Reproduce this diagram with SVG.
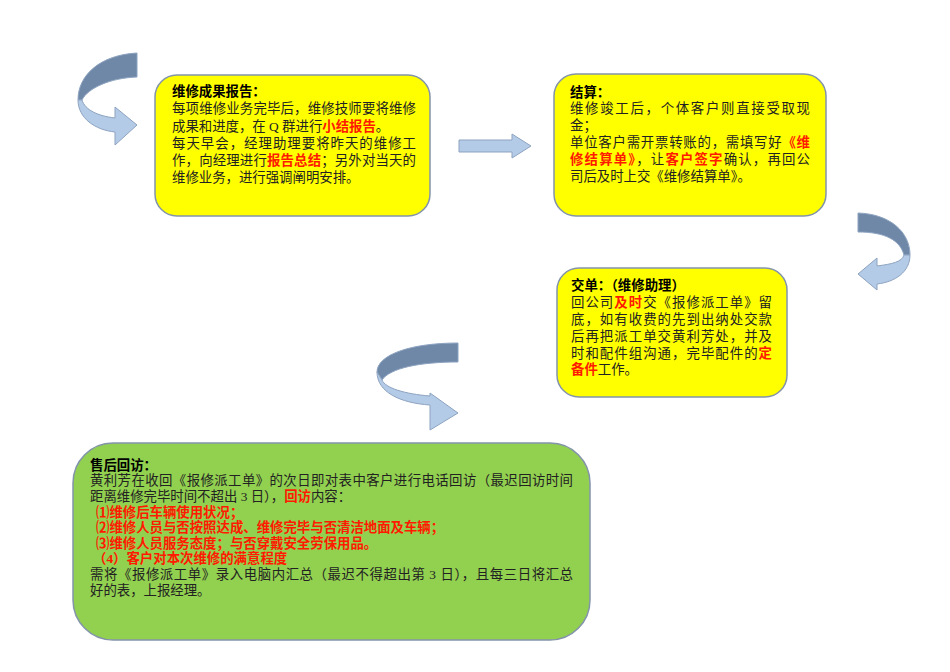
<svg xmlns="http://www.w3.org/2000/svg" width="950" height="672" viewBox="0 0 950 672">
<style>
.box{fill:#ffff00;stroke:#8394aa;stroke-width:1.5}
.g{fill:#92d050;stroke:#8394aa;stroke-width:1.5}
text{font-family:"Liberation Serif","Noto Sans CJK SC",serif;font-size:13.4px;fill:#222}
.b{font-weight:bold;fill:#000}
.r{fill:#ff1a00;font-weight:bold}
.dk{fill:#6f88a8;stroke:#8da3c0;stroke-width:1}
.lt{fill:#b4cbe8;stroke:#8da3c0;stroke-width:1}
</style>
<rect width="950" height="672" fill="#fff"/>
<g id="connectors">
<path class="dk" d="M137,53 L137,77 C110,78 88,88 82,100 L78,100 C78,75 100,55 137,53 Z"/>
<path class="lt" d="M78,100 C78,118 95,130 115,132 L115,145 L137,125 L115,107 L115,118 C98,116 85,110 82,100 Z"/>
<path class="lt" d="M459,140 L512,140 L512,134 L531,146 L512,158 L512,152 L459,152 Z"/>
<path class="dk" d="M858,213 C890,214 910,232 910,255 L904,255 C900,240 885,232 858,232 Z"/>
<path class="lt" d="M910,255 C910,272 895,282 877,284 L877,290 L858,274 L877,258 L877,266 C892,264 902,262 904,255 Z"/>
<path class="dk" d="M458,343 C410,343 377,355 377,372 L382,380 C390,368 420,362 458,362 Z"/>
<path class="lt" d="M377,372 C377,392 400,403 430,405 L430,430 L458,413 L430,393 L430,396 C405,394 385,388 382,380 Z"/>
</g>
<g id="node1">
<rect class="box" x="155" y="75" width="275" height="141" rx="22"/>
<text class="b" x="172" y="96">维修成果报告：</text>
<text x="172" y="113" textLength="244" lengthAdjust="spacing">每项维修业务完毕后，维修技师要将维修</text>
<text x="172" y="131">成果和进度，在 Q 群进行<tspan class="r">小结报告</tspan>。</text>
<text x="172" y="148" textLength="244" lengthAdjust="spacing">每天早会，经理助理要将昨天的维修工</text>
<text x="172" y="165" textLength="244" lengthAdjust="spacing">作，向经理进行<tspan class="r">报告总结</tspan>；另外对当天的</text>
<text x="172" y="182">维修业务，进行强调阐明安排。</text>
</g>
<g id="node2">
<rect class="box" x="554" y="74" width="272" height="142" rx="22"/>
<text class="b" x="570" y="97">结算：</text>
<text x="570" y="113" textLength="240" lengthAdjust="spacing">维修竣工后，个体客户则直接受取现</text>
<text x="570" y="130">金；</text>
<text x="570" y="147" textLength="240" lengthAdjust="spacing">单位客户需开票转账的，需填写好<tspan class="r">《维</tspan></text>
<text x="570" y="164" textLength="240" lengthAdjust="spacing"><tspan class="r">修结算单》</tspan>，让<tspan class="r">客户签字</tspan>确认，再回公</text>
<text x="570" y="181">司后及时上交《维修结算单》。</text>
</g>
<g id="node3">
<rect class="box" x="557" y="268" width="230" height="129" rx="22"/>
<text class="b" x="571" y="290">交单：（维修助理）</text>
<text x="571" y="307" textLength="201" lengthAdjust="spacing">回公司<tspan class="r">及时</tspan>交《报修派工单》留</text>
<text x="571" y="324" textLength="201" lengthAdjust="spacing">底，如有收费的先到出纳处交款</text>
<text x="571" y="341" textLength="201" lengthAdjust="spacing">后再把派工单交黄利芳处，并及</text>
<text x="571" y="358" textLength="201" lengthAdjust="spacing">时和配件组沟通，完毕配件的<tspan class="r">定</tspan></text>
<text x="571" y="374"><tspan class="r">备件</tspan>工作。</text>
</g>
<g id="node4">
<rect class="g" x="73" y="443" width="517" height="197" rx="40"/>
<text class="b" x="90" y="470">售后回访：</text>
<text x="90" y="485" textLength="483" lengthAdjust="spacing">黄利芳在收回《报修派工单》的次日即对表中客户进行电话回访（最迟回访时间</text>
<text x="90" y="501">距离维修完毕时间不超出 3 日），<tspan class="r">回访</tspan>内容：</text>
<text class="r" x="96" y="517">⑴维修后车辆使用状况；</text>
<text class="r" x="96" y="532">⑵维修人员与否按照达成、维修完毕与否清洁地面及车辆；</text>
<text class="r" x="96" y="548">⑶维修人员服务态度；与否穿戴安全劳保用品。</text>
<text class="r" x="93" y="563">（4）客户对本次维修的满意程度</text>
<text x="90" y="579" textLength="483" lengthAdjust="spacing">需将《报修派工单》录入电脑内汇总（最迟不得超出第 3 日），且每三日将汇总</text>
<text x="90" y="595">好的表，上报经理。</text>
</g>
</svg>
